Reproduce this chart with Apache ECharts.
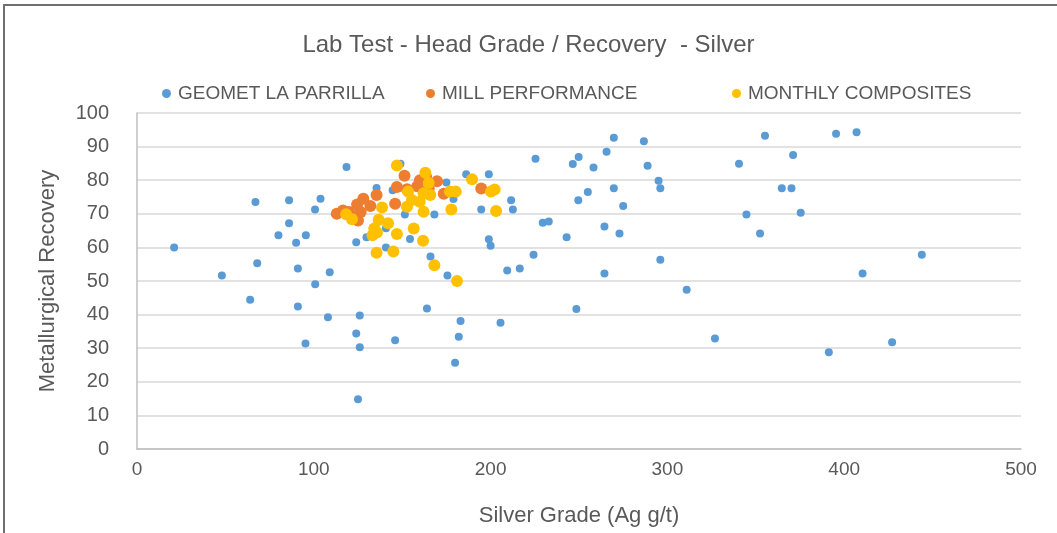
<!DOCTYPE html>
<html>
<head>
<meta charset="utf-8">
<script src="https://cdn.jsdelivr.net/npm/echarts@6/dist/echarts.min.js"></script>
<style>
  html, body { margin: 0; padding: 0; background: #fff; }
  #frame {
    position: absolute; left: 3px; top: 4px; width: 1060px; height: 540px;
    border-left: 2px solid #6f6f6f; border-top: 2px solid #6f6f6f;
  }
  #chart { position: absolute; left: 0; top: 0; width: 1057px; height: 533px; }
</style>
</head>
<body>
<div id="frame"></div>
<div id="chart"></div>
<script>
// series names
const seriesNames = ['GEOMET LA PARRILLA', 'MILL PERFORMANCE', 'MONTHLY COMPOSITES']

// [silver grade g/t, recovery %]
const geometData = [
  [21, 60], [48, 51.6], [64, 44.4], [67, 73.5], [68, 55.3], [80, 63.6], [86, 74], [86, 67.2],
  [90, 61.4], [91, 53.7], [91, 42.4], [95.3, 31.4], [95.5, 63.6], [100.7, 71.3], [100.8, 49],
  [103.8, 74.5], [108, 39.2], [109, 52.6], [118.5, 83.9], [124, 61.5], [124, 34.4], [125, 14.8],
  [126, 39.7], [126, 30.3], [129.8, 63], [135.5, 77.7], [140.8, 65.7], [140.8, 60], [144.6, 77],
  [146, 32.4], [149, 84.9], [151.5, 69.8], [154.4, 62.5], [164, 41.8], [166, 57.3], [168.2, 69.8],
  [175, 79.3], [175.6, 51.6], [179, 74.4], [179.9, 25.7], [182, 33.4], [183, 38.1], [186.2, 81.8],
  [194.7, 71.3], [199, 81.8], [199, 62.4], [200, 60.5], [205.6, 37.6], [209.4, 53.1], [211.6, 74],
  [212.6, 71.3], [216.5, 53.7], [224.3, 57.8], [225.4, 86.4], [229.5, 67.3], [232.9, 67.7],
  [243, 63], [246.5, 84.8], [248.5, 41.7], [249.6, 74], [249.8, 86.9], [255, 76.5], [258.2, 83.8],
  [264.4, 52.2], [264.4, 66.2], [265.6, 88.5], [269.7, 92.6], [269.7, 77.6], [272.9, 64.1],
  [275, 72.3], [286.7, 91.6], [288.8, 84.3], [295, 79.8], [296, 77.6], [296, 56.3], [310.9, 47.4],
  [326.9, 32.9], [340.5, 84.9], [344.7, 69.8], [352.4, 64.1], [355.2, 93.2], [364.7, 77.6],
  [370.2, 77.6], [371.1, 87.5], [375.4, 70.3], [391.3, 28.8], [395.4, 93.8], [407, 94.3],
  [410.4, 52.2], [427.1, 31.8], [443.9, 57.8]
]

const millData = [
  [113, 70], [116.5, 71], [120, 70.5], [124.5, 72.8], [125, 68], [126.5, 70.5], [128, 74.5],
  [132, 72.3], [135.5, 75.6], [146, 73], [147, 78], [151.3, 81.3], [152.7, 77.3], [158.5, 78.2],
  [160, 80], [163.5, 81], [165, 77.5], [169.7, 79.7], [173.5, 76], [194.7, 77.5]
]

const monthlyData = [
  [118.3, 69.9], [121.6, 68.4], [133.2, 63.6], [134.2, 65.6], [135.7, 64.4], [135.5, 58.4],
  [136.7, 68.2], [138.6, 71.9], [142, 67.2], [145, 58.8], [147, 84.4], [147, 64], [152.7, 72.1],
  [153.3, 76.6], [155.5, 74.1], [156.5, 65.6], [159.9, 73.6], [161.8, 62], [162.1, 70.6],
  [162.1, 76.1], [163.1, 82.2], [165, 79.2], [165.9, 75.6], [168.2, 54.7], [177, 76.6],
  [177.8, 71.3], [180.3, 76.6], [181, 50], [189.5, 80.3], [200.2, 76.6], [202.3, 77.2],
  [203.1, 70.8]
]

const colors = ['#5b9bd5', '#ed7d31', '#ffc000']
const textColor = '#595959'
const font = 'Liberation Sans, sans-serif'

const chart = echarts.init(document.getElementById('chart'))

const legendBase = {
  top: 79,
  icon: 'circle',
  itemWidth: 9,
  itemHeight: 9,
  itemGap: 6,
  textStyle: { color: textColor, fontSize: 19, fontFamily: font, padding: [0, 0, 0, 2] }
}

chart.setOption({
  animation: false,
  title: {
    text: 'Lab Test - Head Grade / Recovery  - Silver',
    left: 'center',
    top: 28,
    textStyle: { color: textColor, fontSize: 24, fontWeight: 'normal', fontFamily: font }
  },
  legend: [
    Object.assign({}, legendBase, { left: 157, data: [seriesNames[0]] }),
    Object.assign({}, legendBase, { left: 421, data: [seriesNames[1]] }),
    Object.assign({}, legendBase, { left: 727, data: [seriesNames[2]] })
  ],
  grid: { left: 137, right: 36, top: 113, bottom: 84 },
  xAxis: {
    type: 'value',
    min: 0,
    max: 500,
    interval: 100,
    name: 'Silver Grade (Ag g/t)',
    nameLocation: 'middle',
    nameGap: 56,
    nameTextStyle: { color: textColor, fontSize: 22, fontFamily: font },
    axisLine: { show: true, lineStyle: { color: '#bfbfbf', width: 1.5 } },
    axisTick: { show: false },
    splitLine: { show: false },
    axisLabel: { color: textColor, fontSize: 19, fontFamily: font, margin: 11 }
  },
  yAxis: {
    type: 'value',
    min: 0,
    max: 100,
    interval: 10,
    name: 'Metallurgical Recovery',
    nameLocation: 'middle',
    nameGap: 78,
    nameTextStyle: { color: textColor, fontSize: 22, fontFamily: font },
    axisLine: { show: true, lineStyle: { color: '#bfbfbf', width: 1.5 } },
    axisTick: { show: false },
    splitLine: { lineStyle: { color: '#d9d9d9', width: 1.5 } },
    axisLabel: { color: textColor, fontSize: 20, fontFamily: font, margin: 28 }
  },
  series: [
    { name: seriesNames[0], type: 'scatter', data: geometData, symbolSize: 8, itemStyle: { color: colors[0], opacity: 1 } },
    { name: seriesNames[1], type: 'scatter', data: millData, symbolSize: 12, itemStyle: { color: colors[1], opacity: 1 } },
    { name: seriesNames[2], type: 'scatter', data: monthlyData, symbolSize: 12, itemStyle: { color: colors[2], opacity: 1 } }
  ]
})
</script>
</body>
</html>
